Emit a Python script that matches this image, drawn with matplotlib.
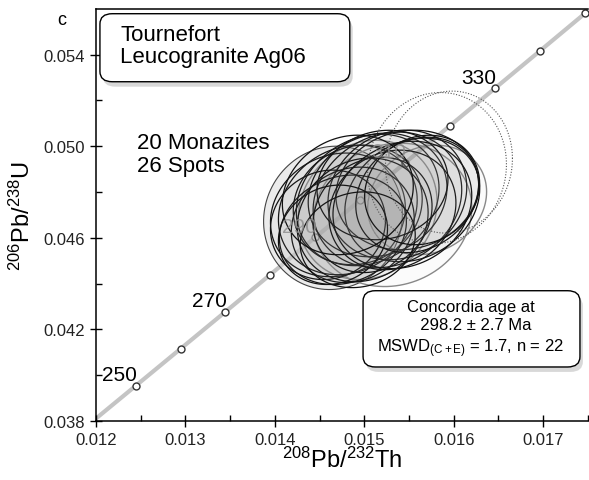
import numpy as np
import matplotlib.pyplot as plt
from matplotlib.patches import FancyBboxPatch, Polygon

plt.rcParams['font.family'] = ['Liberation Sans', 'DejaVu Sans']
plt.rcParams['mathtext.fontset'] = 'custom'
plt.rcParams['mathtext.rm'] = 'Liberation Sans'
plt.rcParams['mathtext.it'] = 'Liberation Sans:italic'

# concordia curve (Th-U), ages in Ma
conc_age = [240, 250, 260, 270, 280, 290, 300, 310, 320, 330, 340, 350, 360]
conc_x = [0.011945, 0.012446, 0.012947, 0.013448, 0.013949, 0.014451, 0.014953,
          0.015456, 0.015958, 0.016461, 0.016964, 0.017467, 0.017971]
conc_y = [0.037932, 0.039543, 0.041157, 0.042773, 0.044392, 0.046014, 0.047637,
          0.049270, 0.050893, 0.052525, 0.054158, 0.055795, 0.057434]
label_ages = [250, 270, 290, 310, 330]

# analyses: centre, half-widths of error ellipse, correlation
ex = [0.014705, 0.014816, 0.014927, 0.015038, 0.015149, 0.015259, 0.015370,
      0.015481, 0.015537, 0.014871, 0.014761, 0.014594, 0.014982, 0.015093,
      0.015315, 0.015592, 0.015204, 0.015426, 0.014650, 0.014927, 0.015647,
      0.014816]
ey = [0.047000, 0.047217, 0.047435, 0.047652, 0.047870, 0.047652, 0.047870,
      0.048087, 0.047652, 0.046565, 0.046348, 0.046565, 0.046783, 0.047000,
      0.047217, 0.047870, 0.048304, 0.047435, 0.046130, 0.045913, 0.048087,
      0.047870]
edx = [0.000754, 0.000776, 0.000721, 0.000798, 0.000776, 0.000831, 0.000776,
       0.000798, 0.000754, 0.000687, 0.000710, 0.000643, 0.000732, 0.000665,
       0.000710, 0.000687, 0.000732, 0.000776, 0.000610, 0.000643, 0.000643,
       0.000732]
edy = [0.00270, 0.00283, 0.00261, 0.00287, 0.00270, 0.00296, 0.00283,
       0.00261, 0.00270, 0.00252, 0.00239, 0.00239, 0.00270, 0.00252,
       0.00261, 0.00252, 0.00239, 0.00278, 0.00217, 0.00209, 0.00239,
       0.00261]
erho = [0.12, 0.15, 0.10, 0.18, 0.12, 0.15, 0.12, 0.10, 0.18, 0.12, 0.15,
        0.08, 0.12, 0.15, 0.12, 0.18, 0.10, 0.15, 0.12, 0.10, 0.12, 0.15]

# grey-outlined analyses
gx = [0.015038, 0.015315, 0.015703]
gy = [0.047217, 0.047000, 0.047652]
gdx = [0.000776, 0.000887, 0.000665]
gdy = [0.00304, 0.00313, 0.00239]
grho = [0.12, 0.10, 0.15]

# large light analysis
bx, by, bdx, bdy, brho = 0.014650, 0.046870, 0.000776, 0.00313, 0.05

# rejected (dotted) analyses
dx_ = [0.015814, 0.015947]
dy_ = [0.049043, 0.049304]
ddx = [0.000776, 0.000710]
ddy = [0.00330, 0.00310]
drho = [0.05, 0.05]


def ellipse_xy(x, y, hx, hy, rho, n=120):
    t = np.linspace(0, 2 * np.pi, n)
    u, v = np.cos(t), np.sin(t)
    return np.column_stack([x + hx * u, y + hy * (rho * u + np.sqrt(1 - rho ** 2) * v)])


fig = plt.figure(figsize=(5.89, 4.81), dpi=100)
ax = fig.add_axes([0.163, 0.1227, 0.835, 0.857])

ax.plot(conc_x, conc_y, color='#c4c4c4', lw=3, zorder=1, solid_capstyle='butt')
mk = [a in range(250, 351) for a in conc_age]
ax.plot([x for x, m in zip(conc_x, mk) if m], [y for y, m in zip(conc_y, mk) if m],
        'o', ms=5, mfc='white', mec='#333333', mew=1, ls='none', zorder=2)

for a in label_ages:
    i = conc_age.index(a)
    col = 'black' if a in (250, 270, 330) else '#8c8c8c'
    z = 7 if col == 'black' else 4.5
    ax.annotate(str(a), (conc_x[i], conc_y[i]), xytext=(1, 1), textcoords='offset points',
                ha='right', va='bottom', fontsize=15, color=col, zorder=z,
                alpha=1 if col == 'black' else 0.8)

ax.add_patch(Polygon(ellipse_xy(bx, by, bdx, bdy, brho), closed=True,
                     fc=(0.85, 0.85, 0.85, 0.5), ec='#444444', lw=0.8, zorder=3))
for i in range(len(gx)):
    ax.add_patch(Polygon(ellipse_xy(gx[i], gy[i], gdx[i], gdy[i], grho[i]), closed=True,
                         fc=(0.6, 0.6, 0.6, 0.03), ec='#888888', lw=1.0, zorder=3))
for i in range(len(ex)):
    ax.add_patch(Polygon(ellipse_xy(ex[i], ey[i], edx[i], edy[i], erho[i]), closed=True,
                         fc=(0.6, 0.6, 0.6, 0.035), ec='#111111', lw=0.9, zorder=4))
for i in range(len(dx_)):
    ax.add_patch(Polygon(ellipse_xy(dx_[i], dy_[i], ddx[i], ddy[i], drho[i]), closed=True,
                         fill=False, ec='#555555', lw=0.8, ls=(0, (1, 1.5)), zorder=4))

ax.set_xlim(0.012, 0.01747)
ax.set_ylim(0.038, 0.056)
ax.set_xticks([0.012, 0.013, 0.014, 0.015, 0.016, 0.017])
ax.set_xticks(np.arange(0.0125, 0.0175, 0.001), minor=True)
ax.set_yticks([0.038, 0.042, 0.046, 0.050, 0.054])
ax.set_yticks([0.040, 0.044, 0.048, 0.052], minor=True)
ax.set_xticklabels(['0.012', '0.013', '0.014', '0.015', '0.016', '0.017'])
ax.set_yticklabels(['0.038', '0.042', '0.046', '0.050', '0.054'])
ax.tick_params(which='major', direction='inout', length=8, width=1, labelsize=12,
               labelcolor='#222222', pad=4)
ax.tick_params(which='minor', direction='in', length=4, width=1)
ax.spines['right'].set_visible(False)
for s in ('left', 'bottom', 'top'):
    ax.spines[s].set_linewidth(1.1)

ax.set_xlabel('$^{208}$Pb/$^{232}$Th', fontsize=17, labelpad=0)
ax.set_ylabel('$^{206}$Pb/$^{238}$U', fontsize=17, labelpad=6)

# label boxes
for (x0, y0, w, h) in [(0.008, 0.823, 0.508, 0.165), (0.543, 0.131, 0.441, 0.185)]:
    ax.add_patch(FancyBboxPatch((x0 + 0.006, y0 - 0.012), w, h, transform=ax.transAxes,
                                boxstyle='round,pad=0,rounding_size=0.025',
                                fc='#c8c8c8', ec='none', zorder=8, alpha=0.7))
    ax.add_patch(FancyBboxPatch((x0, y0), w, h, transform=ax.transAxes,
                                boxstyle='round,pad=0,rounding_size=0.025',
                                fc='white', ec='black', lw=1, zorder=9))

ax.text(0.049, 0.964, 'Tournefort\nLeucogranite Ag06', transform=ax.transAxes,
        ha='left', va='top', fontsize=16, linespacing=1.1, zorder=10)
ax.text(0.083, 0.70, '20 Monazites\n26 Spots', transform=ax.transAxes,
        ha='left', va='top', fontsize=16, linespacing=1.1, zorder=10)
ax.text(0.762, 0.223, 'Concordia age at\n  298.2 ± 2.7 Ma\nMSWD$_{\\mathregular{(C+E)}}$ = 1.7, n = 22',
        transform=ax.transAxes, ha='center', va='center', fontsize=12,
        linespacing=1.25, multialignment='center', zorder=10)

fig.text(0.104, 0.958, 'c', fontsize=13, ha='center', va='center')

fig.savefig('out.png', dpi=100)
